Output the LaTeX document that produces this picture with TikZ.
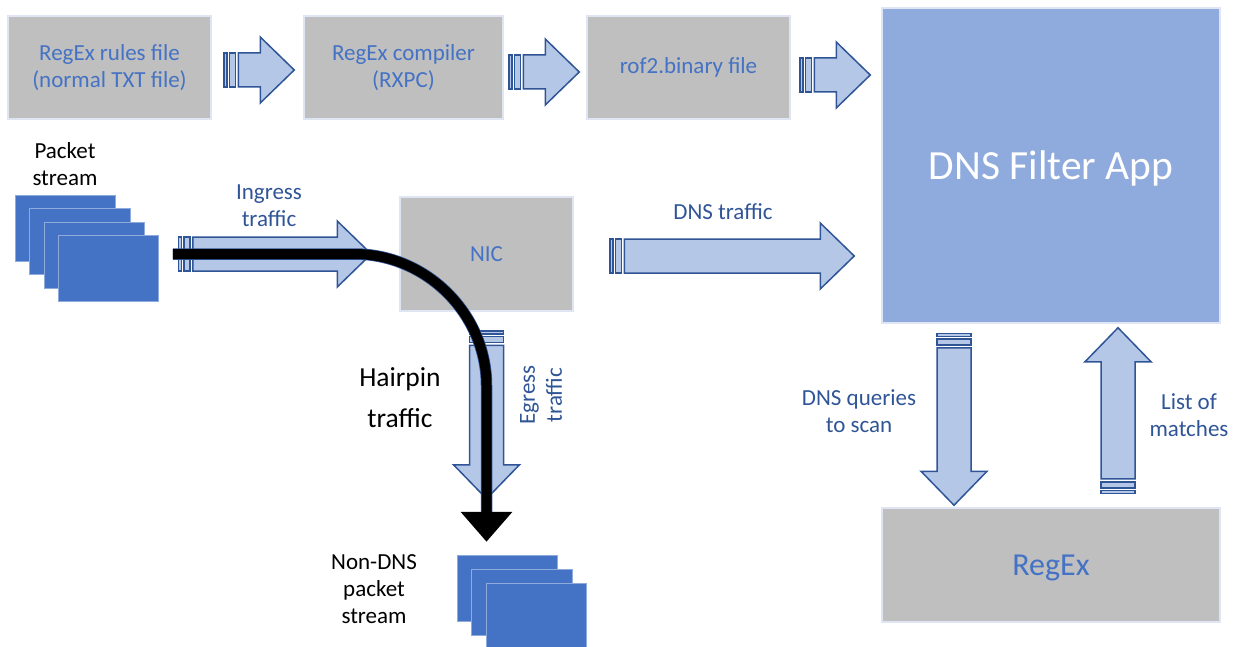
\documentclass[tikz,border=0pt]{standalone}
\usepackage{fontspec}
\setmainfont{Carlito}
\usetikzlibrary{calc,arrows.meta}
\definecolor{boxgray}{HTML}{BFBFBF}
\definecolor{boxedge}{HTML}{DFE5F2}
\definecolor{textblue}{HTML}{4472C4}
\definecolor{labelblue}{HTML}{2F5597}
\definecolor{appblue}{HTML}{8FAADC}
\definecolor{arrowfill}{HTML}{B4C7E7}
\tikzset{
	greybox/.style={draw=boxedge,line width=1.5pt,fill=boxgray,text=textblue,align=center,inner sep=0pt,font=\fontsize{23}{27}\selectfont},
	packetbox/.style={draw=appblue,line width=1pt,fill=textblue,inner sep=0pt,minimum width=100.5pt,minimum height=66pt},
	blockarrow/.style={draw=labelblue,line width=1.5pt,fill=arrowfill,line join=miter},
	bluelabel/.style={text=labelblue,align=center,inner sep=0pt,font=\fontsize{23}{27}\selectfont},
	blacklabel/.style={text=black,align=center,inner sep=0pt,font=\fontsize{23}{27}\selectfont},
	hairpin/.style={draw=black,line width=10pt,-{Triangle[length=30pt,width=50pt]},preaction={draw=labelblue,line width=11.5pt,-,shorten >=30pt}}
}
% block arrow with two stripes at its tail
\newcommand{\stripedarrow}[2]{
	\foreach \a/\b in {0pt/3pt,5.5pt/11.5pt}
		\draw[blockarrow] ($(#1)!\a!(#2)!17pt!90:(#2)$) -- ($(#1)!\b!(#2)!17pt!90:(#2)$) -- ($(#1)!\b!(#2)!17pt!-90:(#2)$) -- ($(#1)!\a!(#2)!17pt!-90:(#2)$) -- cycle;
	\draw[blockarrow] ($(#1)!14.5pt!(#2)!17pt!90:(#2)$) -- ($(#2)!34pt!(#1)!17pt!-90:(#1)$) -- ($(#2)!34pt!(#1)!33pt!-90:(#1)$) -- (#2) -- ($(#2)!34pt!(#1)!33pt!90:(#1)$) -- ($(#2)!34pt!(#1)!17pt!90:(#1)$) -- ($(#1)!14.5pt!(#2)!17pt!-90:(#2)$) -- cycle;
}
\begin{document}
\begin{tikzpicture}[x=1pt,y=-1pt]
	\clip (0,0) rectangle (1238,647);
	% top row
	\node[greybox,minimum width=203pt,minimum height=103pt] (rulesfile) at (109.5,67.5) {RegEx rules file\\(normal TXT file)};
	\node[greybox,minimum width=199pt,minimum height=103pt] (compiler) at (403.5,67.5) {RegEx compiler\\(RXPC)};
	\node[greybox,minimum width=203pt,minimum height=103pt] (binaryfile) at (688.5,67.5) {rof2.binary file};
	\node[draw=boxedge,line width=1.5pt,fill=appblue,text=white,inner sep=0pt,minimum width=338pt,minimum height=315pt,text height=36pt,text depth=9pt,font=\fontsize{41.5}{48}\selectfont] (filterapp) at (1051,165.5) {DNS Filter App};
	\node[greybox,minimum width=173pt,minimum height=114pt] (nic) at (486.5,254) {NIC};
	\node[greybox,minimum width=338pt,minimum height=114pt,text height=27pt,text depth=6.5pt,font=\fontsize{32}{38}\selectfont] (regex) at (1051,565) {RegEx};
	% packet stacks
	\foreach \i/\x/\y in {1/65.5/228,2/80/241.5,3/94.5/255,4/108.5/268}
		\node[packetbox] (packet\i) at (\x,\y) {};
	\foreach \i/\x/\y in {1/507.5/588,2/522/602,3/536.5/616}
		\node[packetbox] (nondns\i) at (\x,\y) {};
	% arrows
	\coordinate (ingresstail) at ($(packet4.east)+(19,-14)$);
	\coordinate (ingresstip) at ($(nic.west)+(-28,0)$);
	\coordinate (dnstail) at ($(nic.east)+(36,2)$);
	\coordinate (dnstip) at ($(filterapp.west)+(-27,90.5)$);
	\coordinate (egresstail) at ($(nic.south)+(0,19)$);
	\coordinate (egresstip) at ($(nic.south)+(0,187)$);
	\coordinate (scantail) at ($(filterapp.south)+(-97,9.5)$);
	\coordinate (scantip) at ($(regex.north)+(-97,-2)$);
	\coordinate (matchtail) at ($(regex.north)+(67,-14)$);
	\coordinate (matchtip) at ($(filterapp.south)+(67,4)$);
	\stripedarrow{$(rulesfile.east)+(12,2.5)$}{$(compiler.west)+(-9,2.5)$}
	\stripedarrow{$(compiler.east)+(5,4.5)$}{$(binaryfile.west)+(-7,4.5)$}
	\stripedarrow{$(binaryfile.east)+(9,7.5)$}{$(filterapp.west)+(-11,-90.5)$}
	\stripedarrow{ingresstail}{ingresstip}
	\stripedarrow{dnstail}{dnstip}
	\stripedarrow{egresstail}{egresstip}
	\stripedarrow{scantail}{scantip}
	\stripedarrow{matchtail}{matchtip}
	% hairpin
	\coordinate (hairstart) at ($(packet4.east)+(13.5,-14)$);
	\coordinate (hairbendin) at ($(nic.west)+(-45,0)$);
	\coordinate (hairbendout) at ($(nic.south)+(0,74)$);
	\coordinate (hairend) at ($(nic.south)+(0,230)$);
	\draw[hairpin] (hairstart) -- (hairbendin) .. controls +(72,0) and +(0,-72) .. (hairbendout) -- (hairend);
	% labels
	\node[blacklabel] (packetlabel) at (65,164) {Packet\\stream};
	\node[blacklabel] (nondnslabel) at (374,589) {Non-DNS\\packet\\stream};
	\node[bluelabel] (ingresslabel) at (269,206) {Ingress\\traffic};
	\node[bluelabel] (dnslabel) at (723,212) {DNS traffic};
	\node[bluelabel,rotate=90] (egresslabel) at (541,395) {Egress\\traffic};
	\node[bluelabel] (scanlabel) at (859,411) {DNS queries\\to scan};
	\node[bluelabel] (matchlabel) at (1189,415) {List of\\matches};
	\node[text=black,align=center,inner sep=0pt,font=\fontsize{27.5}{41}\selectfont] (hairpinlabel) at (400,398) {Hairpin\\traffic};
\end{tikzpicture}
\end{document}
